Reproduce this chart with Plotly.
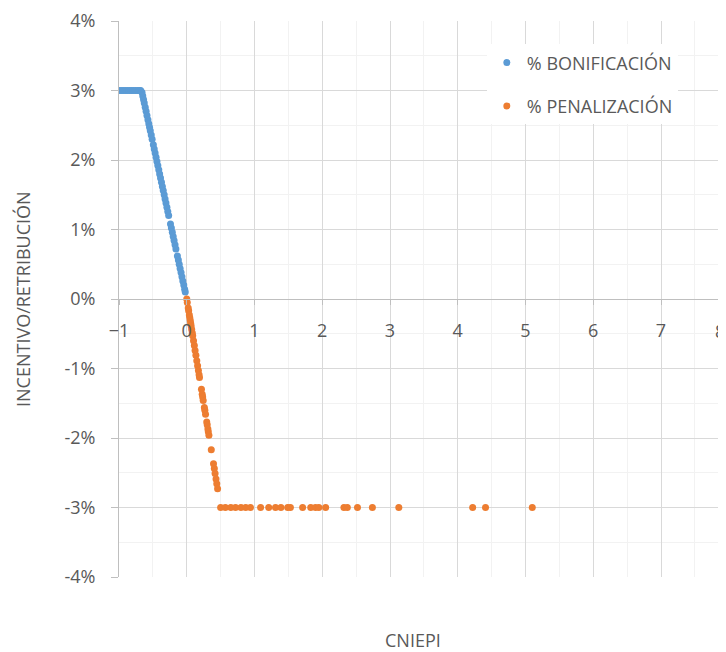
import plotly.graph_objects as go

# % BONIFICACIÓN (blue) – CNIEPI vs incentive (%)
bonif_x = [-1.0, -0.97, -0.94, -0.91, -0.88, -0.85, -0.82, -0.79, -0.76, -0.73, -0.70, -0.68,
           -0.660, -0.649, -0.638, -0.627, -0.613, -0.600, -0.587, -0.573, -0.560, -0.549,
           -0.538, -0.524, -0.511, -0.493, -0.480, -0.467, -0.453, -0.440, -0.427, -0.413,
           -0.400, -0.387, -0.373, -0.360, -0.347, -0.333, -0.320, -0.307, -0.293, -0.280,
           -0.267, -0.240, -0.227, -0.213, -0.200, -0.187, -0.173, -0.160, -0.138, -0.124,
           -0.111, -0.098, -0.084, -0.071, -0.058, -0.044, -0.031, -0.022]
bonif_y = [3.0, 3.0, 3.0, 3.0, 3.0, 3.0, 3.0, 3.0, 3.0, 3.0, 3.0, 3.0,
           2.97, 2.92, 2.87, 2.82, 2.76, 2.70, 2.64, 2.58, 2.52, 2.47,
           2.42, 2.36, 2.30, 2.22, 2.16, 2.10, 2.04, 1.98, 1.92, 1.86,
           1.80, 1.74, 1.68, 1.62, 1.56, 1.50, 1.44, 1.38, 1.32, 1.26,
           1.20, 1.08, 1.02, 0.96, 0.90, 0.84, 0.78, 0.72, 0.62, 0.56,
           0.50, 0.44, 0.38, 0.32, 0.26, 0.20, 0.14, 0.10]

# % PENALIZACIÓN (orange)
penal_x = [0.0, 0.008, 0.022, 0.028, 0.038, 0.045, 0.052, 0.058, 0.065, 0.073, 0.082, 0.088,
           0.100, 0.112, 0.123, 0.135, 0.148, 0.160, 0.172, 0.182, 0.188, 0.217, 0.228, 0.235,
           0.243, 0.260, 0.267, 0.277, 0.295, 0.302, 0.312, 0.318, 0.327, 0.362, 0.395, 0.407,
           0.418, 0.432, 0.443, 0.455,
           0.50, 0.57, 0.65, 0.72, 0.80, 0.87, 0.94, 1.09, 1.21, 1.31, 1.39, 1.49, 1.53,
           1.71, 1.83, 1.90, 1.95, 2.05, 2.32, 2.37, 2.52, 2.74, 3.13, 4.22, 4.41, 5.10]
penal_y = [0.0, -0.05, -0.13, -0.17, -0.23, -0.27, -0.31, -0.35, -0.39, -0.44, -0.49, -0.53,
           -0.60, -0.67, -0.74, -0.81, -0.89, -0.96, -1.03, -1.09, -1.13, -1.30, -1.37, -1.41,
           -1.46, -1.56, -1.60, -1.66, -1.77, -1.81, -1.87, -1.91, -1.96, -2.17, -2.37, -2.44,
           -2.51, -2.59, -2.66, -2.73,
           -3.0, -3.0, -3.0, -3.0, -3.0, -3.0, -3.0, -3.0, -3.0, -3.0, -3.0, -3.0, -3.0,
           -3.0, -3.0, -3.0, -3.0, -3.0, -3.0, -3.0, -3.0, -3.0, -3.0, -3.0, -3.0, -3.0]

x_ticks = [-1, 0, 1, 2, 3, 4, 5, 6, 7]
y_ticks = [-4, -3, -2, -1, 0, 1, 2, 3, 4]
y_tick_labels = ["-4%", "-3%", "-2%", "-1%", "0%", "1%", "2%", "3%", "4%"]

FONT = "Open Sans"
TXT = "#595959"
FS = 18

fig = go.Figure()
fig.add_trace(go.Scatter(x=bonif_x, y=bonif_y, mode="markers", name="% BONIFICACIÓN",
                         legendgroup="a",
                         marker=dict(color="#5B9BD5", size=7)))
fig.add_trace(go.Scatter(x=penal_x, y=penal_y, mode="markers", name="% PENALIZACIÓN",
                         legendgroup="b",
                         marker=dict(color="#ED7D31", size=7)))

fig.update_layout(
    width=719, height=645,
    margin=dict(l=111, r=0, t=10, b=76),
    paper_bgcolor="white", plot_bgcolor="white",
    font=dict(family=FONT, size=FS, color=TXT),
    legend=dict(x=0.605, y=0.958, xanchor="left", yanchor="top",
                bgcolor="white", font=dict(size=FS, color=TXT),
                tracegroupgap=17, itemwidth=30),
    xaxis=dict(range=[-1, 7.974], tickmode="array", tickvals=x_ticks,
               anchor="free", position=0.5,
               showline=True, linecolor="#bfbfbf", linewidth=1,
               ticks="outside", ticklen=5, tickcolor="#bfbfbf",
               ticklabelstandoff=10,
               showgrid=True, gridcolor="#d9d9d9", gridwidth=1,
               minor=dict(dtick=0.5, showgrid=True, gridcolor="#f2f2f2", gridwidth=1),
               zeroline=False, tickfont=dict(size=FS, color=TXT)),
    yaxis=dict(range=[-4, 4], tickmode="array", tickvals=y_ticks, ticktext=y_tick_labels,
               showline=True, linecolor="#bfbfbf", linewidth=1,
               ticks="outside", ticklen=7, tickcolor="#bfbfbf",
               ticklabelstandoff=12, ticklabeloverflow="allow",
               showgrid=True, gridcolor="#d9d9d9", gridwidth=1,
               minor=dict(dtick=0.5, showgrid=True, gridcolor="#f2f2f2", gridwidth=1),
               zeroline=False, tickfont=dict(size=FS, color=TXT)),
    annotations=[
        dict(text="INCENTIVO/RETRIBUCIÓN", textangle=-90, xref="paper", yref="paper",
             x=0, y=0.5, xanchor="center", yanchor="middle", xshift=-96,
             showarrow=False, font=dict(size=FS, color=TXT)),
        dict(text="CNIEPI", xref="paper", yref="paper", x=0.484, y=0,
             xanchor="center", yanchor="middle", yshift=-63,
             showarrow=False, font=dict(size=FS, color=TXT)),
        dict(text="8", xref="paper", yref="paper", x=1, y=0.5,
             xanchor="right", yanchor="middle", xshift=0, yshift=-32,
             showarrow=False, font=dict(size=FS, color=TXT)),
    ],
)

fig.write_html("out.html")
